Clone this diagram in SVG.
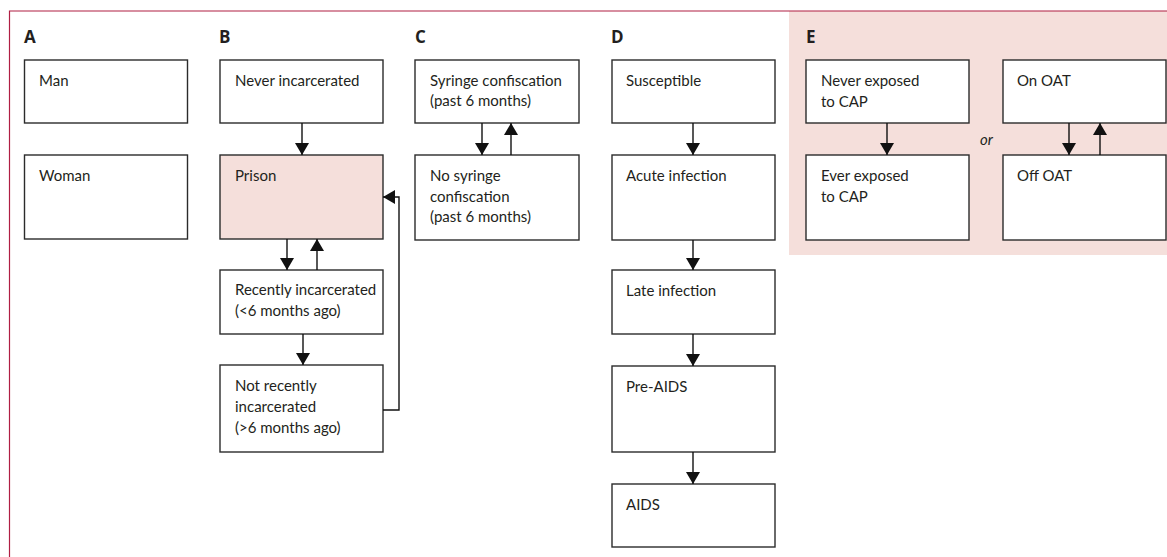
<svg xmlns="http://www.w3.org/2000/svg" width="1167" height="557" viewBox="0 0 1167 557">
<defs>
<marker id="ah" markerUnits="userSpaceOnUse" markerWidth="13" markerHeight="14" refX="12" refY="7" orient="auto">
<path d="M0,0 L12,7 L0,14 z" fill="#111"/>
</marker>
<style>
.box{fill:#fff;stroke:#2b2b2b;stroke-width:1.4}
.pink{fill:#f5dfdb}
.t{font-family:Lato,"Open Sans",sans-serif;font-size:15px;fill:#231f20}
.lab{font-family:"Open Sans","Noto Sans",sans-serif;font-size:17px;font-weight:bold;fill:#231f20}
.c{fill:none;stroke:#111;stroke-width:1.4;marker-end:url(#ah)}
</style>
</defs>
<rect x="0" y="0" width="1167" height="557" fill="#fff"/>
<rect x="789" y="11" width="378" height="244" class="pink"/>
<path d="M9.5,557 V11 H1167" fill="none" stroke="#b01e43" stroke-width="1.2"/>

<text class="lab" x="24" y="43">A</text>
<text class="lab" x="219" y="43">B</text>
<text class="lab" x="415" y="43">C</text>
<text class="lab" x="611" y="43">D</text>
<text class="lab" x="806" y="43">E</text>

<g id="man"><rect class="box" x="24.5" y="60" width="163" height="63"/><text class="t" x="39" y="86">Man</text></g>
<g id="woman"><rect class="box" x="24.5" y="155" width="163" height="84"/><text class="t" x="39" y="181">Woman</text></g>

<g id="never-incarcerated"><rect class="box" x="220" y="60" width="163" height="63"/><text class="t" x="235" y="86">Never incarcerated</text></g>
<g id="prison"><rect class="box" x="220" y="155" width="163" height="84" style="fill:#f5dfdb"/><text class="t" x="235" y="181">Prison</text></g>
<g id="recently"><rect class="box" x="220" y="270" width="163" height="64"/><text class="t" x="235" y="295">Recently incarcerated</text><text class="t" x="235" y="316">(&lt;6 months ago)</text></g>
<g id="not-recently"><rect class="box" x="220" y="365" width="163" height="87"/><text class="t" x="235" y="391">Not recently</text><text class="t" x="235" y="412">incarcerated</text><text class="t" x="235" y="433">(&gt;6 months ago)</text></g>

<g id="syringe"><rect class="box" x="415" y="60" width="164" height="63"/><text class="t" x="430" y="86">Syringe confiscation</text><text class="t" x="430" y="106">(past 6 months)</text></g>
<g id="no-syringe"><rect class="box" x="415" y="155" width="164" height="85"/><text class="t" x="430" y="181">No syringe</text><text class="t" x="430" y="202">confiscation</text><text class="t" x="430" y="222">(past 6 months)</text></g>

<g id="susceptible"><rect class="box" x="612" y="60" width="163" height="63"/><text class="t" x="626" y="86">Susceptible</text></g>
<g id="acute"><rect class="box" x="612" y="155" width="163" height="85"/><text class="t" x="626" y="181">Acute infection</text></g>
<g id="late"><rect class="box" x="612" y="270" width="163" height="64"/><text class="t" x="626" y="296">Late infection</text></g>
<g id="pre-aids"><rect class="box" x="612" y="366" width="163" height="86"/><text class="t" x="626" y="392">Pre-AIDS</text></g>
<g id="aids"><rect class="box" x="612" y="484" width="163" height="63"/><text class="t" x="626" y="510">AIDS</text></g>

<g id="never-cap"><rect class="box" x="806" y="60" width="163" height="63"/><text class="t" x="821" y="86">Never exposed</text><text class="t" x="821" y="107">to CAP</text></g>
<g id="ever-cap"><rect class="box" x="806" y="155" width="163" height="85"/><text class="t" x="821" y="181">Ever exposed</text><text class="t" x="821" y="202">to CAP</text></g>
<g id="or"><text class="t" x="980" y="145" font-style="italic">or</text></g>
<g id="on-oat"><rect class="box" x="1003" y="60" width="163" height="63"/><text class="t" x="1017" y="86">On OAT</text></g>
<g id="off-oat"><rect class="box" x="1003" y="155" width="163" height="85"/><text class="t" x="1017" y="181">Off OAT</text></g>

<g id="connectors">
<path class="c" d="M302,123 V155"/>
<path class="c" d="M287,239 V270"/>
<path class="c" d="M317,270 V239"/>
<path class="c" d="M303,334 V365"/>
<path class="c" d="M383,410 H399 V197 H383"/>
<path class="c" d="M482,123 V155"/>
<path class="c" d="M511,155 V123"/>
<path class="c" d="M693,123 V155"/>
<path class="c" d="M693,240 V270"/>
<path class="c" d="M693,334 V366"/>
<path class="c" d="M693,452 V484"/>
<path class="c" d="M887,123 V155"/>
<path class="c" d="M1069,123 V155"/>
<path class="c" d="M1100,155 V123"/>
</g>
</svg>
